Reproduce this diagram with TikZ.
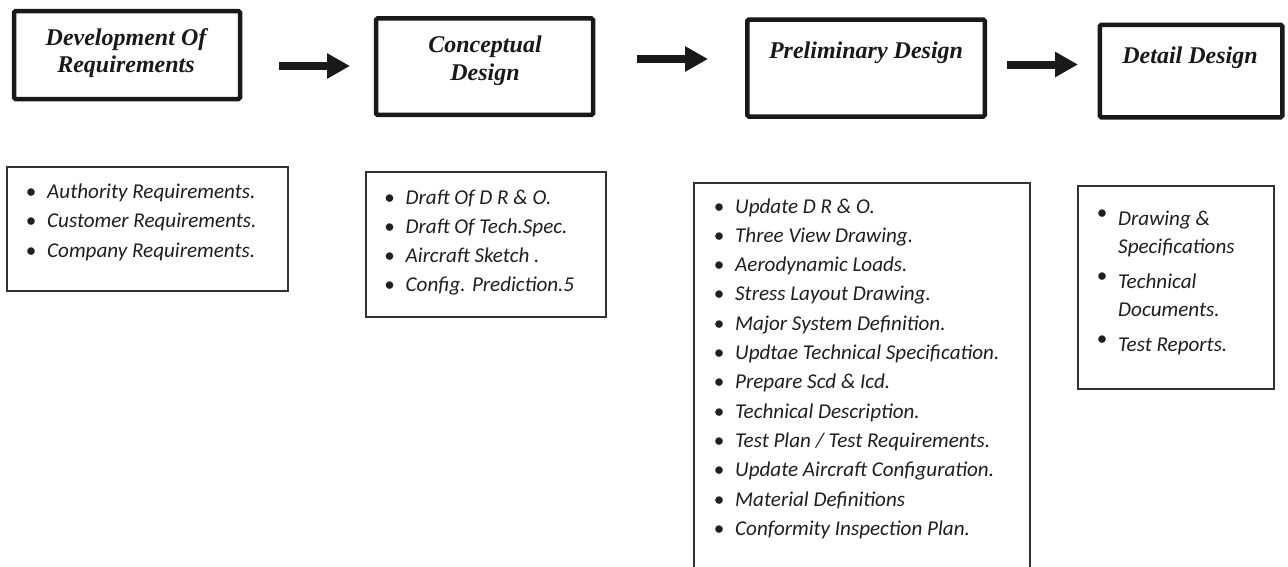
\documentclass[tikz,border=0pt]{standalone}
\usepackage{fontspec}
\setmainfont{Liberation Serif}
\newfontfamily\listfont{Carlito}
\usetikzlibrary{arrows.meta}
% bullet placed in the left margin of a list line
\newcommand\itembul{\llap{\makebox[32pt]{\upshape\textbullet}}}
\newcommand\itembulhi{\llap{\makebox[32pt]{\upshape\raisebox{6pt}{\textbullet}}}}
\begin{document}
\begin{tikzpicture}[x=1pt,y=-1pt,
  stagebox/.style={draw=black!90, line width=4.5pt, rounded corners=1.5pt, inner sep=0pt},
  stagetext/.style={anchor=base, inner sep=0pt, font=\fontsize{24}{28}\selectfont\bfseries\itshape, text=black!90},
  listbox/.style={draw=black!80, line width=1.1pt, inner sep=0pt},
  % anchored at the baseline of the last line of each list
  listtext/.style={anchor=base west, inner sep=0pt, align=left, font=\listfont\itshape\fontsize{21.1}{29.3}\selectfont, text=black!88},
  flow/.style={line width=8pt, draw=black!90, -{Triangle[length=23pt,width=24pt]}}
]
\clip (0,0) rectangle (1288,566);
\fill[white] (0,0) rectangle (1288,566);

% stage boxes
\node[stagebox, minimum width=226pt, minimum height=88pt]   (b1) at (127,55) {};
\node[stagebox, minimum width=217pt, minimum height=96.5pt] (b2) at (484.5,66.7) {};
\node[stagebox, minimum width=237.5pt, minimum height=97pt] (b3) at (866,68) {};
\node[stagebox, minimum width=182.5pt, minimum height=92.5pt] (b4) at (1191,71) {};

% stage titles
\node[stagetext] (t1a) at (126,45) {Development Of};
\node[stagetext] (t1b) at (126,72) {Requirements};
\node[stagetext] (t2a) at (485,52) {Conceptual};
\node[stagetext] (t2b) at (485,80) {Design};
\node[stagetext] (t3)  at (866,58) {Preliminary Design};
\node[stagetext] (t4)  at (1190,63) {Detail Design};

% flow arrows between stages
\coordinate (a1s) at (279,66);   \coordinate (a1e) at (350,66);
\coordinate (a2s) at (637,59);   \coordinate (a2e) at (708,59);
\coordinate (a3s) at (1007,64.5); \coordinate (a3e) at (1078,64.5);
\draw[flow] (a1s) -- (a1e);
\draw[flow] (a2s) -- (a2e);
\draw[flow] (a3s) -- (a3e);

% list boxes
\node[listbox, minimum width=281pt, minimum height=124pt] (l1) at (147.5,229) {};
\node[listbox, minimum width=240pt, minimum height=145pt] (l2) at (486,244.5) {};
\node[listbox, minimum width=336pt, minimum height=417pt] (l3) at (862,391.5) {};
\node[listbox, minimum width=196pt, minimum height=203pt] (l4) at (1176,287.5) {};

% list contents
\node[listtext] (x1) at (47,257.1) {%
  \itembul Authority Requirements.\\
  \itembul Customer Requirements.\\
  \itembul Company Requirements.};
\node[listtext] (x2) at (405.5,291.9) {%
  \itembul Draft Of D R \& O.\\
  \itembul Draft Of Tech.Spec.\\
  \itembul Aircraft Sketch .\\
  \itembul Config. Prediction.5};
\node[listtext] (x3) at (735,535.3) {%
  \itembul Update D R \& O.\\
  \itembul Three View Drawing.\\
  \itembul Aerodynamic Loads.\\
  \itembul Stress Layout Drawing.\\
  \itembul Major System Definition.\\
  \itembul Updtae Technical Specification.\\
  \itembul Prepare Scd \& Icd.\\
  \itembul Technical Description.\\
  \itembul Test Plan / Test Requirements.\\
  \itembul Update Aircraft Configuration.\\
  \itembul Material Definitions\\
  \itembul Conformity Inspection Plan.};
\node[listtext, font=\listfont\itshape\fontsize{21.1}{28}\selectfont] (x4) at (1118,351) {%
  \itembulhi Drawing \&\\
  Specifications\\[7pt]
  \itembulhi Technical\\
  Documents.\\[7pt]
  \itembulhi Test Reports.};
\end{tikzpicture}
\end{document}
